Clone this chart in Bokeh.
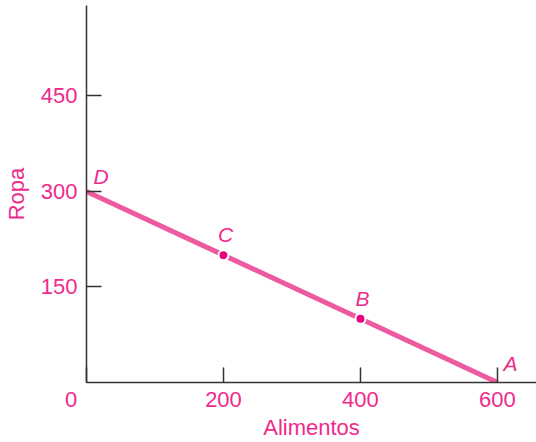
from bokeh.plotting import figure
from bokeh.models import FixedTicker, Range1d, Label
from bokeh.embed import file_html
from bokeh.resources import INLINE

# Data
point_names = ["D", "C", "B", "A"]
alimentos = [0, 200, 400, 600]
ropa = [300, 200, 100, 0]
x_ticks = [0, 200, 400, 600]
y_ticks = [150, 300, 450]

PINK_TEXT = "#EE2A8C"
PINK_LINE = "#EE5A9F"
PINK_DOT = "#E6007E"
AXIS = "#333333"
FONT = "Liberation Sans"

p = figure(width=536, height=442, output_backend="svg", toolbar_location=None,
           x_range=Range1d(0, 657), y_range=Range1d(0, 592),
           min_border_top=5, min_border_right=0, min_border_left=86, min_border_bottom=58)
p.outline_line_color = None
p.grid.visible = False
p.background_fill_color = "white"

for ax in (p.xaxis, p.yaxis):
    ax.axis_line_color = AXIS
    ax.axis_line_width = 1.5
    ax.major_tick_line_color = AXIS
    ax.major_tick_line_width = 1.5
    ax.major_tick_in = 15
    ax.major_tick_out = 0
    ax.minor_tick_line_color = None
    ax.major_label_text_color = PINK_TEXT
    ax.major_label_text_font = FONT
    ax.major_label_text_font_size = "22px"
    ax.axis_label_text_color = PINK_TEXT
    ax.axis_label_text_font = FONT
    ax.axis_label_text_font_size = "22px"
    ax.axis_label_text_font_style = "normal"

p.xaxis.ticker = FixedTicker(ticks=x_ticks)
# origin "0" sits down-left of the corner, as in the reference
p.xaxis.major_label_overrides = {0: "0" + "\u00a0" * 5}
p.yaxis.ticker = FixedTicker(ticks=y_ticks)
p.xaxis.axis_label = "Alimentos"
p.yaxis.axis_label = "Ropa"
p.xaxis.major_label_standoff = 4
p.yaxis.major_label_standoff = 9
p.xaxis.axis_label_standoff = 0
p.yaxis.axis_label_standoff = 9

# budget line
p.line(alimentos, ropa, line_color=PINK_LINE, line_width=5)

# interior points
inner_x = alimentos[1:3]
inner_y = ropa[1:3]
p.scatter(inner_x, inner_y, size=10, fill_color=PINK_DOT, line_color="white", line_width=2)

# point labels
p.add_layout(Label(x=alimentos[0], y=ropa[0], text=point_names[0], x_offset=7, y_offset=3,
                   text_font=FONT, text_font_style="italic", text_font_size="21px",
                   text_color=PINK_TEXT, text_align="left", text_baseline="bottom"))
for nx, ny, nm in zip(inner_x, inner_y, point_names[1:3]):
    p.add_layout(Label(x=nx, y=ny, text=nm, x_offset=2, y_offset=9,
                       text_font=FONT, text_font_style="italic", text_font_size="21px",
                       text_color=PINK_TEXT, text_align="center", text_baseline="bottom"))
p.add_layout(Label(x=alimentos[3], y=ropa[3], text=point_names[3], x_offset=6, y_offset=8,
                   text_font=FONT, text_font_style="italic", text_font_size="21px",
                   text_color=PINK_TEXT, text_align="left", text_baseline="bottom"))

open("out.html", "w").write(file_html(p, INLINE))
